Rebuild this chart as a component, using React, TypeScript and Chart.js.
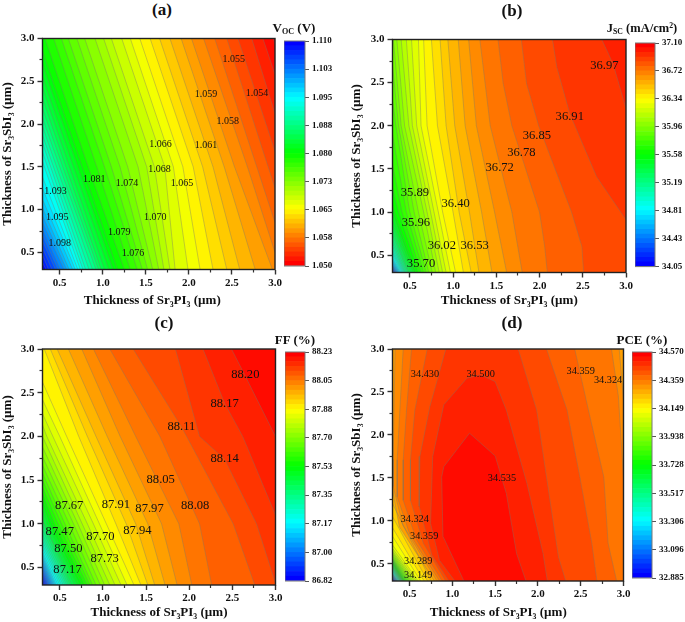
import React, { useEffect, useRef } from "react";
import { Chart, registerables } from "chart.js";

Chart.register(...registerables);

// Contour polylines [x, y]; index = level number counted from the red end (48 levels per panel)
const vocFirstLevel = 0;
const vocContours = [
  [[2.98, 3], [3, 2.93]],
  [[2.86, 3], [3, 2.58]],
  [[2.73, 3], [3, 2.12]],
  [[2.57, 3], [3, 1.68]],
  [[2.44, 3], [3, 1.25]],
  [[2.3, 3], [3, 0.85]],
  [[2.17, 3], [2.68, 1.5], [3, 0.5]],
  [[2.03, 3], [2.53, 1.5], [2.97, 0.3]],
  [[1.91, 3], [2.41, 1.5], [2.77, 0.3]],
  [[1.78, 3], [2.28, 1.5], [2.59, 0.3]],
  [[1.66, 3], [2.16, 1.5], [2.44, 0.3]],
  [[1.55, 3], [2.05, 1.5], [2.28, 0.3]],
  [[1.43, 3], [1.93, 1.5], [2.13, 0.3]],
  [[1.32, 3], [1.82, 1.5], [1.99, 0.3]],
  [[1.22, 3], [1.72, 1.5], [1.84, 0.3]],
  [[1.1, 3], [1.6, 1.5], [1.78, 0.3]],
  [[1.01, 3], [1.51, 1.5], [1.71, 0.3]],
  [[0.91, 3], [1.41, 1.5], [1.65, 0.3]],
  [[0.79, 3], [1.29, 1.5], [1.58, 0.3]],
  [[0.7, 3], [1.2, 1.5], [1.52, 0.3]],
  [[0.6, 3], [1.1, 1.5], [1.46, 0.3]],
  [[0.52, 3], [1.02, 1.5], [1.4, 0.3]],
  [[0.43, 3], [0.93, 1.5], [1.32, 0.3]],
  [[0.33, 3], [0.83, 1.5], [1.25, 0.3]],
  [[0.3, 2.85], [1.17, 0.3]],
  [[0.3, 2.7], [1.12, 0.3]],
  [[0.3, 2.55], [1.07, 0.3]],
  [[0.3, 2.42], [1.02, 0.3]],
  [[0.3, 2.3], [0.98, 0.3]],
  [[0.3, 2.18], [0.95, 0.3]],
  [[0.3, 2.07], [0.92, 0.3]],
  [[0.3, 1.97], [0.88, 0.3]],
  [[0.3, 1.87], [0.84, 0.3]],
  [[0.3, 1.78], [0.8, 0.3]],
  [[0.3, 1.67], [0.77, 0.3]],
  [[0.3, 1.56], [0.74, 0.3]],
  [[0.3, 1.38], [0.71, 0.3]],
  [[0.3, 1.25], [0.68, 0.3]],
  [[0.3, 1.12], [0.65, 0.3]],
  [[0.3, 1.02], [0.61, 0.3]],
  [[0.3, 0.93], [0.58, 0.3]],
  [[0.3, 0.85], [0.55, 0.3]],
  [[0.3, 0.77], [0.51, 0.3]],
  [[0.3, 0.7], [0.48, 0.3]],
  [[0.3, 0.63], [0.45, 0.3]],
  [[0.3, 0.55], [0.41, 0.3]],
  [[0.3, 0.47], [0.37, 0.3]],
  [[0.3, 0.38], [0.34, 0.3]],
];

const jscFirstLevel = 2;
const jscContours = [
  [[2.72, 3], [2.85, 2.72], [3, 2.2]],
  [[2.15, 3], [2.2, 2.68], [2.35, 2.14], [2.66, 1.41], [3, 0.91]],
  [[1.79, 3], [1.85, 2.49], [1.99, 2], [2.37, 1], [2.49, 0.6], [2.51, 0.3]],
  [[1.52, 3], [1.58, 2.49], [1.68, 2], [2, 1], [2.06, 0.6], [2.09, 0.3]],
  [[1.31, 3], [1.43, 2], [1.68, 1], [1.8, 0.3]],
  [[1.18, 3], [1.27, 2], [1.48, 1], [1.62, 0.3]],
  [[1.06, 3], [1.14, 2], [1.33, 1], [1.45, 0.3]],
  [[0.94, 3], [1.02, 2], [1.19, 1], [1.3, 0.3]],
  [[0.85, 3], [0.92, 2], [1.07, 1], [1.21, 0.3]],
  [[0.75, 3], [0.82, 2], [1.0, 1], [1.12, 0.3]],
  [[0.66, 3], [0.7, 2], [0.88, 1], [1.03, 0.3]],
  [[0.6, 3], [0.63, 2], [0.83, 1], [0.97, 0.3]],
  [[0.52, 3], [0.58, 2], [0.78, 1], [0.92, 0.3]],
  [[0.46, 3], [0.53, 2], [0.74, 1], [0.88, 0.3]],
  [[0.4, 3], [0.49, 2], [0.7, 1], [0.84, 0.3]],
  [[0.35, 3], [0.44, 2], [0.66, 1], [0.8, 0.3]],
  [[0.31, 3], [0.4, 2], [0.6, 1], [0.76, 0.3]],
  [[0.3, 2.7], [0.37, 2], [0.55, 1], [0.72, 0.3]],
  [[0.3, 2.3], [0.34, 2], [0.5, 1], [0.69, 0.3]],
  [[0.3, 1.9], [0.46, 1], [0.66, 0.3]],
  [[0.3, 1.55], [0.41, 1], [0.63, 0.3]],
  [[0.3, 1.28], [0.37, 1], [0.6, 0.3]],
  [[0.3, 1.08], [0.32, 1], [0.57, 0.3]],
  [[0.3, 0.98], [0.55, 0.3]],
  [[0.3, 0.9], [0.53, 0.3]],
  [[0.3, 0.84], [0.51, 0.3]],
  [[0.3, 0.78], [0.49, 0.3]],
  [[0.3, 0.73], [0.48, 0.3]],
  [[0.3, 0.68], [0.465, 0.3]],
  [[0.3, 0.64], [0.45, 0.3]],
  [[0.3, 0.6], [0.44, 0.3]],
  [[0.3, 0.56], [0.43, 0.3]],
  [[0.3, 0.53], [0.42, 0.3]],
  [[0.3, 0.5], [0.41, 0.3]],
  [[0.3, 0.47], [0.4, 0.3]],
  [[0.3, 0.45], [0.39, 0.3]],
  [[0.3, 0.43], [0.38, 0.3]],
  [[0.3, 0.41], [0.37, 0.3]],
  [[0.3, 0.39], [0.36, 0.3]],
  [[0.3, 0.38], [0.35, 0.3]],
  [[0.3, 0.37], [0.34, 0.3]],
  [[0.3, 0.36], [0.335, 0.3]],
  [[0.3, 0.345], [0.33, 0.3]],
  [[0.3, 0.335], [0.32, 0.3]],
  [[0.3, 0.325], [0.315, 0.3]],
  [[0.3, 0.31], [0.31, 0.3]],
];

const ffFirstLevel = 1;
const ffContours = [
  [[2.49, 3], [2.64, 2.71], [3, 2.0]],
  [[2.16, 3], [2.41, 2.38], [2.62, 2], [3, 1.1]],
  [[1.84, 3], [2.12, 2], [2.41, 1.74], [2.78, 1], [3, 0.32]],
  [[1.35, 3], [1.91, 2.11], [2.51, 1], [2.76, 0.3]],
  [[1.08, 3], [1.66, 2], [2.12, 1], [2.26, 0.3]],
  [[0.89, 3], [1.38, 2], [1.88, 1], [2.03, 0.3]],
  [[0.755, 3], [1.2, 2], [1.68, 1], [1.86, 0.3]],
  [[0.6, 3], [1.05, 2], [1.52, 1], [1.72, 0.3]],
  [[0.47, 3], [0.92, 2], [1.38, 1], [1.6, 0.3]],
  [[0.39, 3], [0.82, 2], [1.27, 1], [1.52, 0.3]],
  [[0.32, 3], [0.72, 2], [1.15, 1], [1.44, 0.3]],
  [[0.3, 2.62], [0.58, 2], [1.04, 1], [1.36, 0.3]],
  [[0.3, 2.42], [0.5, 2], [0.96, 1], [1.28, 0.3]],
  [[0.3, 2.26], [0.42, 2], [0.89, 1], [1.21, 0.3]],
  [[0.3, 2.13], [0.35, 2], [0.82, 1], [1.14, 0.3]],
  [[0.3, 2.0], [0.76, 1], [1.08, 0.3]],
  [[0.3, 1.88], [0.71, 1], [1.02, 0.3]],
  [[0.3, 1.77], [0.66, 1], [0.97, 0.3]],
  [[0.3, 1.67], [0.61, 1], [0.92, 0.3]],
  [[0.3, 1.58], [0.56, 1], [0.88, 0.3]],
  [[0.3, 1.5], [0.52, 1], [0.85, 0.3]],
  [[0.3, 1.42], [0.48, 1], [0.82, 0.3]],
  [[0.3, 1.35], [0.44, 1], [0.79, 0.3]],
  [[0.3, 1.28], [0.41, 1], [0.76, 0.3]],
  [[0.3, 1.21], [0.38, 1], [0.73, 0.3]],
  [[0.3, 1.15], [0.35, 1], [0.7, 0.3]],
  [[0.3, 1.09], [0.32, 1], [0.67, 0.3]],
  [[0.3, 1.03], [0.64, 0.3]],
  [[0.3, 0.98], [0.62, 0.3]],
  [[0.3, 0.93], [0.6, 0.3]],
  [[0.3, 0.88], [0.58, 0.3]],
  [[0.3, 0.84], [0.56, 0.3]],
  [[0.3, 0.8], [0.54, 0.3]],
  [[0.3, 0.76], [0.52, 0.3]],
  [[0.3, 0.72], [0.5, 0.3]],
  [[0.3, 0.68], [0.48, 0.3]],
  [[0.3, 0.65], [0.46, 0.3]],
  [[0.3, 0.62], [0.445, 0.3]],
  [[0.3, 0.59], [0.43, 0.3]],
  [[0.3, 0.56], [0.415, 0.3]],
  [[0.3, 0.53], [0.4, 0.3]],
  [[0.3, 0.5], [0.385, 0.3]],
  [[0.3, 0.47], [0.37, 0.3]],
  [[0.3, 0.44], [0.36, 0.3]],
  [[0.3, 0.41], [0.345, 0.3]],
  [[0.3, 0.38], [0.33, 0.3]],
  [[0.3, 0.35], [0.315, 0.3]],
];

// PCE has a ridge, so a level may have a right and a left branch
const pceFirstLevel = 1;
const pceContours = [
  [[[1.86, 0.3], [1.75, 0.62], [1.63, 1.32], [1.5, 1.755], [1.2, 2.02], [0.9, 1.63], [0.875, 1.51], [0.89, 0.82], [1.135, 0.3]]],
  [[[2.11, 0.3], [2.06, 0.62], [1.87, 1.44], [1.63, 2.29], [1.5, 2.62], [1.33, 2.7], [1.17, 2.66], [0.9, 2.35], [0.77, 1.75], [0.745, 0.97], [0.85, 0.54], [1.03, 0.3]]],
  [[[2.325, 0.3], [2.24, 0.58], [2.1, 1.51], [1.985, 2.29], [1.77, 3]], [[0.924, 3], [0.737, 2.33], [0.62, 1.75], [0.612, 1.17], [0.76, 0.6], [0.96, 0.3]]],
  [[[2.69, 0.3], [2.63, 0.74], [2.49, 1.51], [2.34, 2.29], [2.1, 3]], [[0.706, 3], [0.561, 2.29], [0.51, 1.71], [0.51, 1.24], [0.66, 0.74], [0.92, 0.3]]],
  [[[2.92, 0.3], [2.82, 0.74], [2.77, 1.51], [2.59, 2.29], [2.43, 3]], [[0.522, 3], [0.464, 2.29], [0.425, 1.71], [0.425, 1.24], [0.58, 0.78], [0.88, 0.3]]],
  [[[3, 1.5], [2.94, 2.45], [2.86, 3]], [[0.425, 3], [0.386, 2.29], [0.355, 1.71], [0.355, 1.28], [0.5, 0.85], [0.85, 0.3]]],
  [[[3, 2.4], [2.95, 3]], [[0.33, 3], [0.308, 1.71], [0.308, 1.4], [0.42, 0.95], [0.82, 0.3]]],
  [[[0.3, 1.36], [0.38, 0.93], [0.79, 0.3]]],
  [[[0.3, 1.2], [0.75, 0.3]]],
  [[[0.3, 1.05], [0.71, 0.3]]],
  [[[0.3, 0.92], [0.67, 0.3]]],
  [[[0.3, 0.82], [0.63, 0.3]]],
  [[[0.3, 0.72], [0.6, 0.3]]],
  [[[0.3, 0.68], [0.58, 0.3]]],
  [[[0.3, 0.65], [0.56, 0.3]]],
  [[[0.3, 0.63], [0.54, 0.3]]],
  [[[0.3, 0.61], [0.52, 0.3]]],
  [[[0.3, 0.59], [0.505, 0.3]]],
  [[[0.3, 0.57], [0.49, 0.3]]],
  [[[0.3, 0.56], [0.475, 0.3]]],
  [[[0.3, 0.55], [0.46, 0.3]]],
  [[[0.3, 0.54], [0.45, 0.3]]],
  [[[0.3, 0.53], [0.44, 0.3]]],
  [[[0.3, 0.52], [0.43, 0.3]]],
  [[[0.3, 0.505], [0.425, 0.3]]],
  [[[0.3, 0.49], [0.42, 0.3]]],
  [[[0.3, 0.48], [0.415, 0.3]]],
  [[[0.3, 0.47], [0.41, 0.3]]],
  [[[0.3, 0.46], [0.405, 0.3]]],
  [[[0.3, 0.45], [0.4, 0.3]]],
  [[[0.3, 0.44], [0.395, 0.3]]],
  [[[0.3, 0.43], [0.39, 0.3]]],
  [[[0.3, 0.42], [0.385, 0.3]]],
  [[[0.3, 0.41], [0.38, 0.3]]],
  [[[0.3, 0.4], [0.375, 0.3]]],
  [[[0.3, 0.39], [0.37, 0.3]]],
  [[[0.3, 0.385], [0.365, 0.3]]],
  [[[0.3, 0.38], [0.36, 0.3]]],
  [[[0.3, 0.375], [0.355, 0.3]]],
  [[[0.3, 0.37], [0.35, 0.3]]],
  [[[0.3, 0.365], [0.345, 0.3]]],
  [[[0.3, 0.36], [0.34, 0.3]]],
  [[[0.3, 0.35], [0.335, 0.3]]],
  [[[0.3, 0.345], [0.33, 0.3]]],
  [[[0.3, 0.335], [0.325, 0.3]]],
  [[[0.3, 0.325], [0.32, 0.3]]],
  [[[0.3, 0.315], [0.31, 0.3]]],
];

// Contour labels
const vocLabels = ["1.055", "1.054", "1.059", "1.058", "1.066", "1.061", "1.068", "1.065", "1.081", "1.074", "1.093", "1.095", "1.070", "1.079", "1.098", "1.076"];
const vocLabelX = [2.52, 2.79, 2.2, 2.45, 1.67, 2.2, 1.66, 1.92, 0.9, 1.28, 0.45, 0.47, 1.61, 1.19, 0.5, 1.35];
const vocLabelY = [2.76, 2.36, 2.35, 2.03, 1.76, 1.75, 1.47, 1.31, 1.35, 1.31, 1.21, 0.91, 0.91, 0.73, 0.6, 0.49];

const jscLabels = ["36.97", "36.91", "36.85", "36.78", "36.72", "35.89", "36.40", "35.96", "36.02", "36.53", "35.70"];
const jscLabelX = [2.75, 2.35, 1.97, 1.79, 1.54, 0.56, 1.03, 0.57, 0.87, 1.25, 0.63];
const jscLabelY = [2.7, 2.11, 1.89, 1.69, 1.51, 1.22, 1.1, 0.88, 0.61, 0.61, 0.4];

const ffLabels = ["88.20", "88.17", "88.11", "88.14", "88.05", "87.67", "87.91", "87.97", "88.08", "87.47", "87.94", "87.70", "87.50", "87.73", "87.17"];
const ffLabelX = [2.65, 2.41, 1.91, 2.41, 1.67, 0.61, 1.15, 1.54, 2.07, 0.5, 1.4, 0.97, 0.6, 1.02, 0.59];
const ffLabelY = [2.71, 2.38, 2.11, 1.74, 1.51, 1.21, 1.22, 1.17, 1.21, 0.91, 0.92, 0.85, 0.72, 0.6, 0.47];

const pceLabels = ["34.430", "34.500", "34.359", "34.324", "34.535", "34.324", "34.359", "34.289", "34.149"];
const pceLabelX = [0.68, 1.33, 2.5, 2.82, 1.58, 0.56, 0.67, 0.6, 0.6];
const pceLabelY = [2.71, 2.71, 2.74, 2.64, 1.5, 1.02, 0.82, 0.53, 0.37];

// Colour bar tick labels, bottom to top
const vocBarTicks = ["1.050", "1.058", "1.065", "1.073", "1.080", "1.088", "1.095", "1.103", "1.110"];
const jscBarTicks = ["34.05", "34.43", "34.81", "35.19", "35.58", "35.96", "36.34", "36.72", "37.10"];
const ffBarTicks = ["86.82", "87.00", "87.17", "87.35", "87.53", "87.70", "87.88", "88.05", "88.23"];
const pceBarTicks = ["32.885", "33.096", "33.306", "33.517", "33.728", "33.938", "34.149", "34.359", "34.570"];

const majorTicks = [0.5, 1.0, 1.5, 2.0, 2.5, 3.0];
const minorTicks = [0.75, 1.25, 1.75, 2.25, 2.75];
const xTitle = "Thickness of Sr₃PI₃ (µm)";
const yTitle = "Thickness of Sr₃SbI₃ (µm)";

const LEVELS = 48;
const AXIS_MIN = 0.3;
const AXIS_MAX = 3;
const SERIF = "'Liberation Serif', 'Times New Roman', serif";

function rainbow(t: number) {
  const v = Math.max(0, Math.min(1, t));
  let r = 0, g = 0, b = 0;
  if (v < 0.25) { g = 4 * v; b = 1; }
  else if (v < 0.5) { g = 1; b = 1 - 4 * (v - 0.25); }
  else if (v < 0.75) { r = 4 * (v - 0.5); g = 1; }
  else { r = 1; g = 1 - 4 * (v - 0.75); }
  return `rgb(${Math.round(r * 255)},${Math.round(g * 255)},${Math.round(b * 255)})`;
}

// position along the plot's border, running bottom -> right -> top -> left
function perimeter(p: number[]) {
  const span = AXIS_MAX - AXIS_MIN;
  const [x, y] = p;
  if (y <= AXIS_MIN + 1e-6) return x - AXIS_MIN;
  if (x >= AXIS_MAX - 1e-6) return span + (y - AXIS_MIN);
  if (y >= AXIS_MAX - 1e-6) return 2 * span + (AXIS_MAX - x);
  return 3 * span + (AXIS_MAX - y);
}
const CORNERS = [[AXIS_MAX, AXIS_MIN], [AXIS_MAX, AXIS_MAX], [AXIS_MIN, AXIS_MAX], [AXIS_MIN, AXIS_MIN]];

function walkBorder(from: number[], to: number[]) {
  const span = AXIS_MAX - AXIS_MIN;
  const total = 4 * span;
  const a = perimeter(from);
  let b = perimeter(to);
  if (b <= a) b += total;
  const out: number[][] = [];
  for (let c = 1; c <= 8; c++) {
    const pos = c * span;
    if (pos > a + 1e-9 && pos < b - 1e-9) out.push(CORNERS[(c - 1) % 4]);
  }
  return out;
}

function regionOf(branches: number[][][]) {
  const pts: number[][] = [];
  branches.forEach((br, i) => {
    pts.push(...br);
    const next = branches[(i + 1) % branches.length];
    pts.push(...walkBorder(br[br.length - 1], next[0]));
  });
  pts.push(pts[0]);
  return pts;
}

const toXY = (pts: number[][]) => pts.map(([x, y]) => ({ x, y }));

const labelPlugin = {
  id: "contourLabels",
  afterDatasetsDraw(chart: any) {
    const { ctx, chartArea: a } = chart;
    ctx.save();
    ctx.strokeStyle = "#222";
    ctx.lineWidth = 1.4;
    ctx.strokeRect(a.left, a.top, a.right - a.left, a.bottom - a.top);
    chart.data.datasets.forEach((ds: any, i: number) => {
      if (!ds.textLabels) return;
      const meta = chart.getDatasetMeta(i);
      ctx.fillStyle = "#111";
      ctx.font = `${ds.textSize}px ${SERIF}`;
      ctx.textAlign = "center";
      ctx.textBaseline = "middle";
      ds.textLabels.forEach((t: string, j: number) => {
        const el = meta.data[j];
        ctx.fillText(t, el.x, el.y);
      });
    });
    ctx.restore();
  },
};

const barFramePlugin = {
  id: "barFrame",
  afterDraw(chart: any) {
    const { ctx, chartArea: a } = chart;
    ctx.save();
    ctx.strokeStyle = "#777";
    ctx.lineWidth = 1;
    ctx.strokeRect(a.left, a.top, a.right - a.left, a.bottom - a.top);
    ctx.restore();
  },
};

function panelChart(canvas: HTMLCanvasElement, p: any) {
  const contours: number[][][][] = p.contours.map((c: any) =>
    typeof c[0][0] === "number" ? [c] : c
  );
  const datasets: any[] = [];
  datasets.push({
    data: p.labelX.map((x: number, i: number) => ({ x, y: p.labelY[i] })),
    textLabels: p.labels,
    textSize: p.textSize,
    showLine: false,
    pointRadius: 0,
    clip: false,
  });
  contours.forEach((branches) =>
    branches.forEach((br) =>
      datasets.push({
        data: toXY(br),
        showLine: true,
        pointRadius: 0,
        borderColor: "rgba(120,120,105,0.55)",
        borderWidth: 0.7,
        tension: 0,
        fill: false,
      })
    )
  );
  contours.forEach((branches, i) => {
    const level = p.firstLevel + i;
    datasets.push({
      data: toXY(regionOf(branches)),
      showLine: true,
      pointRadius: 0,
      borderWidth: 0,
      tension: 0,
      fill: "shape",
      backgroundColor: rainbow(1 - (level - 0.5) / LEVELS),
    });
  });
  datasets.push({
    data: toXY([[AXIS_MIN, AXIS_MIN], [AXIS_MAX, AXIS_MIN], [AXIS_MAX, AXIS_MAX], [AXIS_MIN, AXIS_MAX], [AXIS_MIN, AXIS_MIN]]),
    showLine: true,
    pointRadius: 0,
    borderWidth: 0,
    fill: "shape",
    backgroundColor: rainbow(0),
  });

  const tickFont = { family: SERIF, size: 11, weight: "bold" as const };
  const titleFont = { family: SERIF, size: 13, weight: "bold" as const };
  const setTicks = (list: number[]) => (s: any) => {
    s.ticks = list.map((value) => ({ value }));
  };
  const minorGrid = { drawOnChartArea: false, tickLength: 3, tickColor: "#333", tickWidth: 1.2 };
  const majorGrid = { drawOnChartArea: false, tickLength: 5, tickColor: "#333", tickWidth: 1.4 };
  const fmt = (v: any) => Number(v).toFixed(1);

  return new Chart(canvas, {
    type: "scatter",
    data: { datasets },
    plugins: [labelPlugin],
    options: {
      animation: false,
      responsive: false,
      layout: {
        autoPadding: false,
        padding: { left: 0, top: p.plot.top - p.box.top, right: p.box.left + p.box.w - p.plot.right, bottom: 0 },
      },
      plugins: { legend: { display: false }, tooltip: { enabled: false } },
      scales: {
        x: {
          type: "linear", min: AXIS_MIN, max: AXIS_MAX, weight: 1,
          afterBuildTicks: setTicks(majorTicks),
          afterFit: (s: any) => { s.height = p.box.top + p.box.h - p.plot.bottom; },
          grid: majorGrid,
          border: { display: false },
          ticks: { font: tickFont, color: "#111", padding: 2, maxRotation: 0, autoSkip: false, callback: fmt },
          title: { display: true, text: xTitle + " ".repeat(p.xShift), font: titleFont, color: "#111", padding: { top: 0, bottom: 0 } },
        },
        x2: {
          type: "linear", position: "bottom", min: AXIS_MIN, max: AXIS_MAX, weight: 0,
          afterBuildTicks: setTicks(minorTicks),
          afterFit: (s: any) => { s.height = 0; },
          grid: minorGrid, border: { display: false }, ticks: { display: false },
        },
        y: {
          type: "linear", min: AXIS_MIN, max: AXIS_MAX, weight: 1,
          afterBuildTicks: setTicks(majorTicks),
          afterFit: (s: any) => { s.width = p.plot.left - p.box.left; },
          grid: majorGrid,
          border: { display: false },
          ticks: { font: tickFont, color: "#111", padding: 3, autoSkip: false, callback: fmt },
          title: { display: true, text: yTitle, font: titleFont, color: "#111", padding: { top: p.yTitlePad, bottom: 0 } },
        },
        y2: {
          type: "linear", position: "left", min: AXIS_MIN, max: AXIS_MAX, weight: 0,
          afterBuildTicks: setTicks(minorTicks),
          afterFit: (s: any) => { s.width = 0; },
          grid: minorGrid, border: { display: false }, ticks: { display: false },
        },
      },
    },
  } as any);
}

function barChart(canvas: HTMLCanvasElement, p: any) {
  const slots = Array.from({ length: LEVELS }, (_, i) => i);
  const datasets = slots.map((i) => ({
    data: [1],
    backgroundColor: rainbow(p.redAtBottom ? 1 - i / (LEVELS - 1) : i / (LEVELS - 1)),
    borderWidth: 0,
    barPercentage: 1,
    categoryPercentage: 1,
    stack: "bar",
  }));
  const b = p.bar;
  return new Chart(canvas, {
    type: "bar",
    data: { labels: [p.name], datasets },
    plugins: [barFramePlugin],
    options: {
      animation: false,
      responsive: false,
      layout: { autoPadding: false, padding: { top: b.top - b.boxTop, bottom: b.boxTop + b.boxH - b.bottom, left: 0, right: 0 } },
      plugins: { legend: { display: false }, tooltip: { enabled: false } },
      scales: {
        x: { display: false, stacked: true },
        y: {
          position: "right", stacked: true, min: 0, max: LEVELS,
          afterBuildTicks: (s: any) => { s.ticks = p.ticks.map((_: string, i: number) => ({ value: i * 6 })); },
          afterFit: (s: any) => { s.width = b.boxW - (b.right - b.left); },
          grid: { drawOnChartArea: false, tickLength: 4, tickColor: "#555", tickWidth: 1 },
          border: { display: false },
          ticks: {
            autoSkip: false, padding: 3, color: "#111",
            font: { family: SERIF, size: 9, weight: "bold" },
            callback: (v: any) => p.ticks[Math.round(Number(v) / 6)],
          },
        },
      },
    },
  } as any);
}

const panels = [
  {
    name: "voc", contours: vocContours, firstLevel: vocFirstLevel, labels: vocLabels, labelX: vocLabelX, labelY: vocLabelY,
    textSize: 10, xShift: 4, yTitlePad: 0,
    box: { left: 0, top: 20, w: 292, h: 288 }, plot: { left: 42.5, right: 275, top: 38.5, bottom: 269.5 },
    ticks: vocBarTicks, redAtBottom: true, bar: { left: 284, right: 305, top: 41, bottom: 266, boxTop: 30, boxH: 245, boxW: 60 },
  },
  {
    name: "jsc", contours: jscContours, firstLevel: jscFirstLevel, labels: jscLabels, labelX: jscLabelX, labelY: jscLabelY,
    textSize: 12.6, xShift: 0, yTitlePad: 0,
    box: { left: 349, top: 20, w: 290, h: 288 }, plot: { left: 392.5, right: 626, top: 39.5, bottom: 272.5 },
    ticks: jscBarTicks, redAtBottom: false, bar: { left: 635, right: 655, top: 43, bottom: 269, boxTop: 30, boxH: 245, boxW: 50 },
  },
  {
    name: "ff", contours: ffContours, firstLevel: ffFirstLevel, labels: ffLabels, labelX: ffLabelX, labelY: ffLabelY,
    textSize: 12.6, xShift: 0, yTitlePad: 0,
    box: { left: 0, top: 330, w: 292, h: 290 }, plot: { left: 42.5, right: 275.5, top: 349, bottom: 585 },
    ticks: ffBarTicks, redAtBottom: false, bar: { left: 285, right: 305, top: 352, bottom: 581, boxTop: 340, boxH: 250, boxW: 60 },
  },
  {
    name: "pce", contours: pceContours, firstLevel: pceFirstLevel, labels: pceLabels, labelX: pceLabelX, labelY: pceLabelY,
    textSize: 10.3, xShift: 6, yTitlePad: 0,
    box: { left: 349, top: 330, w: 288, h: 290 }, plot: { left: 392.5, right: 623.5, top: 349, bottom: 581 },
    ticks: pceBarTicks, redAtBottom: false, bar: { left: 632, right: 652, top: 352, bottom: 578, boxTop: 340, boxH: 250, boxW: 53 },
  },
];

const letters = [
  { text: "(a)", x: 162, y: 9 },
  { text: "(b)", x: 512, y: 10 },
  { text: "(c)", x: 164, y: 322 },
  { text: "(d)", x: 512, y: 322 },
];

const textBase: React.CSSProperties = {
  position: "absolute",
  transform: "translate(-50%,-50%)",
  fontFamily: SERIF,
  fontWeight: "bold",
  whiteSpace: "nowrap",
  color: "#111",
  lineHeight: 1,
};
const subStyle: React.CSSProperties = { fontSize: "0.62em", verticalAlign: "-0.25em", lineHeight: 0 };
const supStyle: React.CSSProperties = { fontSize: "0.62em", verticalAlign: "0.45em", lineHeight: 0 };

export default function App() {
  const refs = useRef<(HTMLCanvasElement | null)[]>([]);
  useEffect(() => {
    const charts: Chart[] = [];
    panels.forEach((p, i) => {
      charts.push(panelChart(refs.current[i * 2]!, p));
      charts.push(barChart(refs.current[i * 2 + 1]!, p));
    });
    return () => charts.forEach((c) => c.destroy());
  }, []);

  return (
    <div style={{ position: "fixed", left: 0, top: 0, width: 685, height: 622, background: "#fff", overflow: "hidden" }}>
      {panels.map((p, i) => (
        <React.Fragment key={p.name}>
          <canvas
            ref={(el) => { refs.current[i * 2] = el; }}
            width={p.box.w}
            height={p.box.h}
            style={{ position: "absolute", left: p.box.left, top: p.box.top, width: p.box.w, height: p.box.h }}
          />
          <canvas
            ref={(el) => { refs.current[i * 2 + 1] = el; }}
            width={p.bar.boxW}
            height={p.bar.boxH}
            style={{ position: "absolute", left: p.bar.left, top: p.bar.boxTop, width: p.bar.boxW, height: p.bar.boxH }}
          />
        </React.Fragment>
      ))}
      {letters.map((l) => (
        <div key={l.text} style={{ ...textBase, left: l.x, top: l.y, fontSize: 17 }}>{l.text}</div>
      ))}
      <div style={{ ...textBase, left: 294, top: 27, fontSize: 13 }}>V<span style={subStyle}>OC</span> (V)</div>
      <div style={{ ...textBase, left: 642, top: 28, fontSize: 12.5 }}>J<span style={subStyle}>SC</span> (mA/cm<span style={supStyle}>2</span>)</div>
      <div style={{ ...textBase, left: 295, top: 339, fontSize: 13 }}>FF (%)</div>
      <div style={{ ...textBase, left: 642, top: 339, fontSize: 13 }}>PCE (%)</div>
    </div>
  );
}
